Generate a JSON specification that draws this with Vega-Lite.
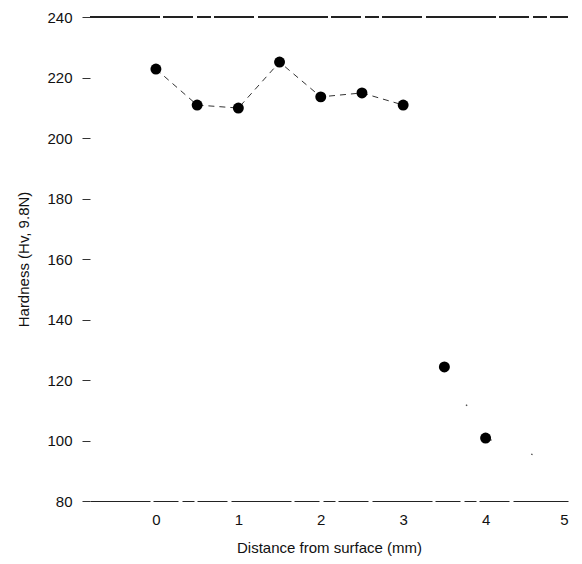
{
  "$schema": "https://vega.github.io/schema/vega-lite/v6.json",
  "autosize": "none",
  "width": 478,
  "height": 484,
  "padding": {"left": 90, "top": 17, "right": 14, "bottom": 63},
  "background": "white",
  "config": {
    "view": {"stroke": null},
    "font": "Liberation Sans",
    "axis": {"labelFont": "Liberation Sans", "titleFont": "Liberation Sans", "labelColor": "#111", "titleColor": "#111", "titleFontWeight": "normal", "grid": false}
  },
  "data": {
    "values": [
      {"d": 0, "h": 222.8, "part": "case"},
      {"d": 0.5, "h": 210.9, "part": "case"},
      {"d": 1, "h": 209.9, "part": "case"},
      {"d": 1.5, "h": 225.1, "part": "case"},
      {"d": 2, "h": 213.6, "part": "case"},
      {"d": 2.5, "h": 214.9, "part": "case"},
      {"d": 3, "h": 210.9, "part": "case"},
      {"d": 3.5, "h": 124.3, "part": "core"},
      {"d": 4, "h": 100.8, "part": "core"},
      {"d": 4.75, "h": 93.6, "part": "trace"}
    ]
  },
  "encoding": {
    "x": {
      "field": "d", "type": "quantitative",
      "scale": {"domain": [-0.8, 5], "nice": false, "zero": false},
      "axis": {
        "title": "Distance from surface (mm)",
        "values": [0, 1, 2, 3, 4, 5],
        "ticks": false, "labelPadding": 11, "labelFontSize": 15,
        "titleFontSize": 15, "titlePadding": 13,
        "domain": true, "domainColor": "#222", "domainWidth": 1,
        "domainDash": [60, 3, 25, 4, 12, 3, 30, 4]
      }
    },
    "y": {
      "field": "h", "type": "quantitative",
      "scale": {"domain": [80, 240], "nice": false, "zero": false},
      "axis": {
        "title": "Hardness (Hv, 9.8N)",
        "values": [80, 100, 120, 140, 160, 180, 200, 220, 240],
        "domain": false, "ticks": true, "tickSize": 8, "tickColor": "#333",
        "labelPadding": 10, "labelFontSize": 15,
        "titleFontSize": 15, "titlePadding": 15
      }
    }
  },
  "layer": [
    {
      "mark": {"type": "rule", "color": "#222", "strokeWidth": 1, "strokeDash": [70, 3, 30, 4, 14, 3, 40, 4]},
      "encoding": {"x": {"datum": -0.8}, "x2": {"datum": 5}, "y": {"datum": 240}}
    },
    {
      "transform": [{"filter": "datum.d <= 3"}],
      "mark": {"type": "line", "color": "#333", "strokeWidth": 1, "strokeDash": [6, 5]}
    },
    {
      "transform": [{"filter": "datum.d >= 3.5"}],
      "mark": {"type": "line", "color": "#555", "strokeWidth": 1.5, "strokeDash": [1.5, 42]}
    },
    {
      "transform": [{"filter": "datum.part != 'trace'"}],
      "mark": {"type": "point", "filled": true, "color": "#000", "size": 120, "opacity": 1}
    }
  ]
}
